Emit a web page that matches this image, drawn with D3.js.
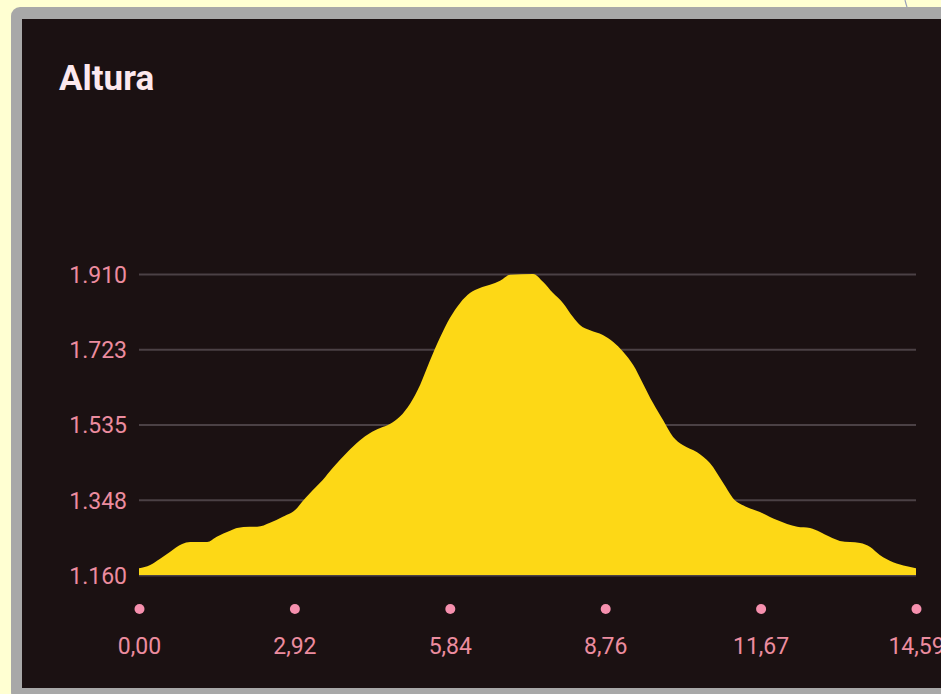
<!DOCTYPE html>
<html>
<head>
<meta charset="utf-8">
<script src="https://cdn.jsdelivr.net/npm/d3@7"></script>
<style>
  html, body { margin: 0; padding: 0; background: #ffffd2; }
  svg { display: block; }
</style>
</head>
<body>
<div id="chart-area"></div>
<script>
// elevation profile, km / metres
const distKm = [0.00, 0.21, 0.39, 0.58, 0.81, 0.96, 1.28, 1.46, 1.71, 1.84, 2.08, 2.22, 2.46, 2.70, 2.97,
  3.06, 3.34, 3.45, 3.64, 3.91, 4.15, 4.34, 4.53, 4.71, 4.90, 5.09, 5.28, 5.46, 5.65, 5.84, 6.03,
  6.22, 6.40, 6.59, 6.78, 6.97, 7.40, 7.59, 7.77, 7.96, 8.15, 8.28, 8.47, 8.71, 8.90, 9.09, 9.28,
  9.46, 9.65, 9.84, 10.03, 10.21, 10.48, 10.72, 10.97, 11.15, 11.42, 11.66, 11.98, 12.36, 12.60,
  12.79, 12.97, 13.16, 13.54, 13.73, 13.91, 14.16, 14.42, 14.59];
const elevM = [1177, 1185, 1200, 1217, 1237, 1242, 1242, 1255, 1270, 1277, 1280, 1280, 1290, 1305, 1327,
  1342, 1382, 1397, 1427, 1466, 1496, 1514, 1526, 1536, 1555, 1587, 1634, 1693, 1751, 1801, 1838,
  1863, 1875, 1883, 1893, 1908, 1910, 1890, 1863, 1838, 1803, 1783, 1770, 1758, 1741, 1716, 1683,
  1638, 1589, 1546, 1504, 1484, 1466, 1439, 1389, 1352, 1329, 1317, 1297, 1280, 1277,
  1267, 1255, 1245, 1240, 1230, 1210, 1192, 1182, 1177];

const yTicks = [1160, 1347.5, 1535, 1722.5, 1910];
const yTickLabels = ["1.160", "1.348", "1.535", "1.723", "1.910"];
const xTicks = [0, 2.918, 5.836, 8.754, 11.672, 14.59];
const xTickLabels = ["0,00", "2,92", "5,84", "8,76", "11,67", "14,59"];

const W = 941, H = 694;
const plotLeft = 139, plotRight = 916, plotTop = 274, plotBottom = 575;

let svg = d3.select("#chart-area").append("svg")
  .attr("width", W)
  .attr("height", H);

// frame + card
svg.append("rect").attr("x", 11).attr("y", 7).attr("width", W).attr("height", H)
  .attr("rx", 9).attr("fill", "#a8a8a8");
svg.append("rect").attr("x", 22).attr("y", 19).attr("width", W).attr("height", 669)
  .attr("fill", "#1b1112");
svg.append("path").attr("d", "M905,0 Q906,4 907,7")
  .attr("stroke", "#9aa0b8").attr("stroke-width", 1.2).attr("fill", "none");

svg.append("text")
  .attr("x", 59).attr("y", 90)
  .attr("font-family", "Roboto, sans-serif")
  .attr("font-weight", "bold")
  .attr("font-size", "35px")
  .attr("fill", "#fce8ee")
  .text("Altura");

const x = d3.scaleLinear().domain([0, 14.59]).range([plotLeft, plotRight]);
const y = d3.scaleLinear().domain([1160, 1910]).range([plotBottom, plotTop]);

// y axis with grid
const yAxis = d3.axisLeft(y)
  .tickValues(yTicks)
  .tickFormat((d, i) => yTickLabels[i])
  .tickSize(-(plotRight - plotLeft))
  .tickPadding(12);

const gy = svg.append("g")
  .attr("transform", `translate(${plotLeft},0)`)
  .call(yAxis);
gy.select(".domain").remove();
gy.selectAll("line").attr("stroke", "#4b4145").attr("stroke-width", 2);
gy.selectAll("text")
  .attr("font-family", "Roboto, sans-serif")
  .attr("font-size", "23px")
  .attr("fill", "#ec8c9f")
  .attr("dy", "0.36em");

// area
const area = d3.area()
  .x((d, i) => x(distKm[i]))
  .y0(y(1160))
  .y1((d, i) => y(elevM[i]))
  .curve(d3.curveMonotoneX);

svg.append("path")
  .datum(elevM)
  .attr("d", area)
  .attr("fill", "#fdd816");

// x axis
const xAxis = d3.axisBottom(x)
  .tickValues(xTicks)
  .tickFormat((d, i) => xTickLabels[i])
  .tickSize(0)
  .tickPadding(63);

const gx = svg.append("g")
  .attr("transform", `translate(0,${plotBottom})`)
  .call(xAxis);
gx.select(".domain").remove();
gx.selectAll("text")
  .attr("font-family", "Roboto, sans-serif")
  .attr("font-size", "23px")
  .attr("fill", "#ec8c9f");

gx.selectAll(".tick").append("circle")
  .attr("cy", 34)
  .attr("r", 5)
  .attr("fill", "#f690ae");
</script>
</body>
</html>
